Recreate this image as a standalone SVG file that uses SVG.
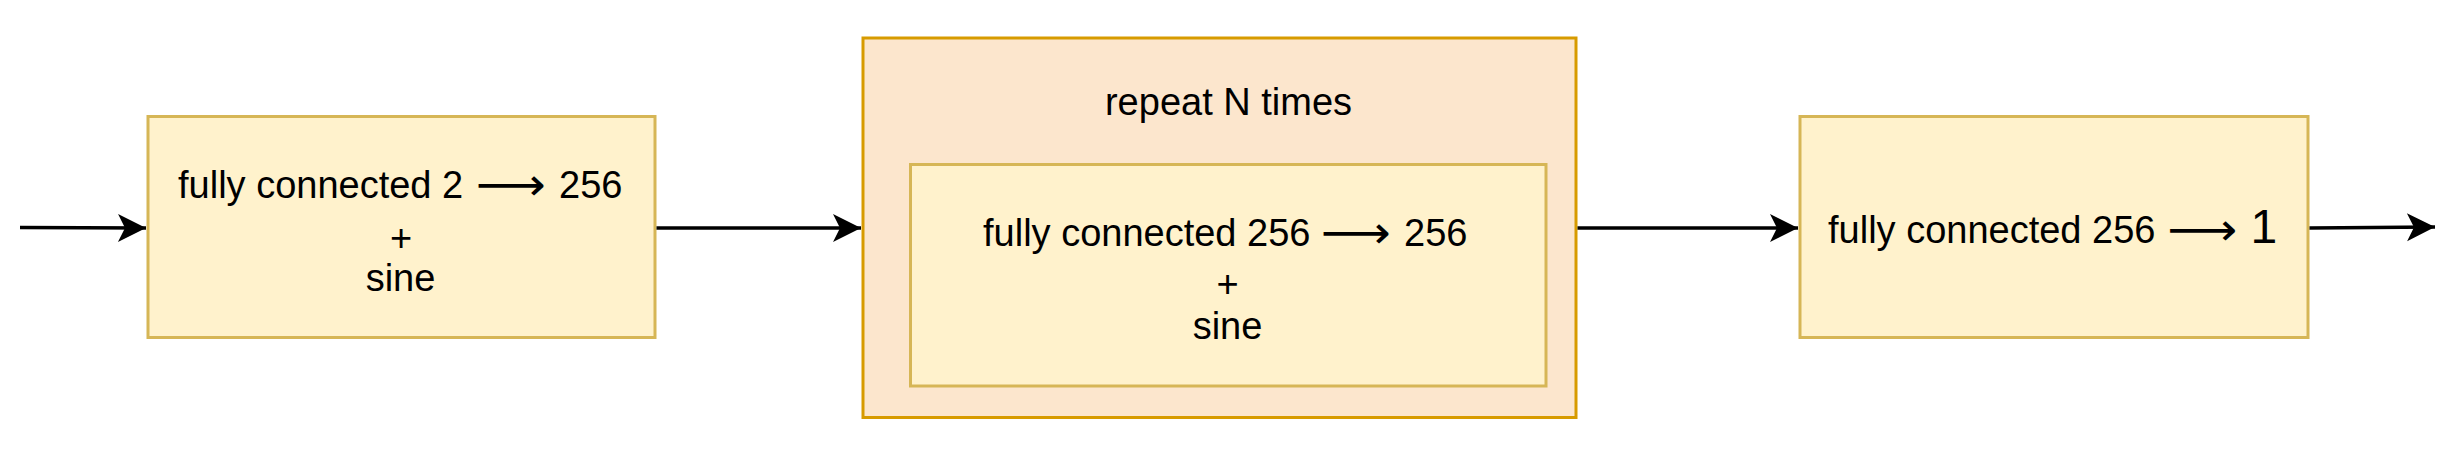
<svg xmlns="http://www.w3.org/2000/svg" width="2462" height="454" viewBox="0 0 2462 454">
<style>
.t{font-family:"Liberation Sans",Arial,sans-serif;font-size:38px;fill:#000}
.m{text-anchor:middle}
.arr{font-family:"DejaVu Sans",sans-serif;font-size:45px}
.y{fill:#fff2cc;stroke:#d6b656;stroke-width:3}
.o{fill:#fce6cd;stroke:#d79b00;stroke-width:3}
.c{fill:none;stroke:#000;stroke-width:3.5}
</style>
<defs>
<marker id="ah" markerUnits="userSpaceOnUse" markerWidth="32" markerHeight="32" viewBox="-30 -16 32 32" refX="0" refY="0" orient="auto">
<path d="M0,0 L-28,-14 L-21,0 L-28,14 Z" fill="#000"/>
</marker>
</defs>
<rect width="2462" height="454" fill="#fff"/>
<g id="box1">
<rect class="y" x="148" y="116.5" width="507" height="221"/>
<text class="t"><tspan x="178" y="197.5">fully connected 2</tspan><tspan class="arr" x="476" y="200" textLength="70" lengthAdjust="spacingAndGlyphs">⟶</tspan><tspan x="559" y="197.5">256</tspan></text>
<text class="t m" x="401" y="251">+</text>
<text class="t m" x="400.5" y="290.5">sine</text>
</g>
<g id="repeat">
<rect class="o" x="863" y="38" width="713" height="379.5"/>
<text class="t m" x="1228.5" y="115">repeat N times</text>
</g>
<g id="box2">
<rect class="y" x="910.5" y="164.5" width="635.5" height="221.5"/>
<text class="t"><tspan x="983" y="245.5">fully connected 256</tspan><tspan class="arr" x="1321" y="248" textLength="70" lengthAdjust="spacingAndGlyphs">⟶</tspan><tspan x="1404" y="245.5">256</tspan></text>
<text class="t m" x="1227.5" y="297">+</text>
<text class="t m" x="1227.5" y="338.5">sine</text>
</g>
<g id="box3">
<rect class="y" x="1800" y="116.5" width="508" height="221"/>
<text class="t"><tspan x="1828" y="242.5">fully connected 256</tspan><tspan class="arr" x="2167.5" y="245" textLength="70" lengthAdjust="spacingAndGlyphs">⟶</tspan><tspan x="2250.5" y="242.5" style="font-size:48px">1</tspan></text>
</g>
<g id="connectors">
<path class="c" d="M20,227.5 L146,228" marker-end="url(#ah)"/>
<path class="c" d="M656.5,228 L861,228" marker-end="url(#ah)"/>
<path class="c" d="M1577.5,228 L1798,228" marker-end="url(#ah)"/>
<path class="c" d="M2309.5,228 L2435,227" marker-end="url(#ah)"/>
</g>
</svg>
